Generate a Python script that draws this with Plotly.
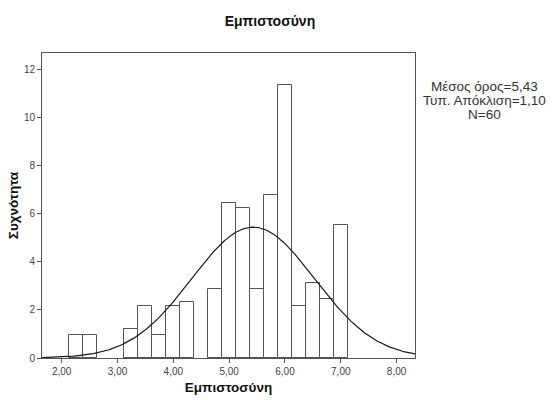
import numpy as np
import plotly.graph_objects as go

# Histogram of trust scores (bin width 0.25)
bin_centers = [2.25, 2.50, 3.25, 3.50, 3.75, 4.00, 4.25, 4.75, 5.00, 5.25,
               5.50, 5.75, 6.00, 6.25, 6.50, 6.75, 7.00]
frequencies = [0.94, 0.94, 1.22, 2.16, 0.96, 2.16, 2.31, 2.85, 6.46, 6.22,
               2.85, 6.77, 11.35, 2.16, 3.10, 2.47, 5.53]
bin_width = 0.25

# Summary statistics shown beside the chart
mean_value = 5.43
std_value = 1.10
n_value = 60

x_tick_vals = [2, 3, 4, 5, 6, 7, 8]
x_tick_text = ["2,00", "3,00", "4,00", "5,00", "6,00", "7,00", "8,00"]
y_tick_vals = [0, 2, 4, 6, 8, 10, 12]

x_range = [1.647, 8.33]
y_range = [0, 12.68]

# Normal curve scaled to the histogram counts
curve_x = np.linspace(x_range[0], x_range[1], 300)
curve_y = (n_value * bin_width / (std_value * np.sqrt(2 * np.pi))
           * np.exp(-0.5 * ((curve_x - mean_value) / std_value) ** 2))

font_family = "Liberation Sans, Arial, sans-serif"


def decimal_comma(value):
    return f"{value:.2f}".replace(".", ",")


fig = go.Figure()
fig.add_trace(go.Bar(
    x=bin_centers, y=frequencies, width=bin_width,
    marker=dict(color="white", line=dict(color="#555555", width=1)),
    hoverinfo="x+y", showlegend=False,
))
fig.add_trace(go.Scatter(
    x=curve_x, y=curve_y, mode="lines",
    line=dict(color="#1a1a1a", width=1.2),
    hoverinfo="skip", showlegend=False,
))

stats_lines = [f"Μέσος όρος={decimal_comma(mean_value)}",
               f"Τυπ. Απόκλιση={decimal_comma(std_value)}",
               f"N={n_value}"]
stats_y = [0.889, 0.843, 0.797]

fig.update_layout(
    width=552, height=400,
    margin=dict(l=42, r=137, t=53, b=42),
    paper_bgcolor="white", plot_bgcolor="white",
    font=dict(family=font_family, color="#333333", size=10),
    bargap=0,
    title=dict(text="<b>Εμπιστοσύνη</b>", x=0.489, xanchor="center",
               y=0.947, yanchor="middle",
               font=dict(size=14, color="#111111", family=font_family)),
    xaxis=dict(
        range=x_range, tickvals=x_tick_vals, ticktext=x_tick_text,
        ticks="outside", ticklen=4, tickcolor="#555555",
        showline=True, mirror=True, linecolor="#555555", linewidth=1,
        showgrid=False, zeroline=False, automargin=False,
        tickfont=dict(size=10, color="#444444"),
        title=dict(text="<b>Εμπιστοσύνη</b>", standoff=6,
                   font=dict(size=13.5, color="#111111")),
    ),
    yaxis=dict(
        range=y_range, tickvals=y_tick_vals,
        ticks="outside", ticklen=4, tickcolor="#555555",
        showline=True, mirror=True, linecolor="#555555", linewidth=1,
        showgrid=False, zeroline=False, automargin=False,
        tickfont=dict(size=10, color="#444444"),
        title=dict(text="<b>Συχνότητα</b>", standoff=2,
                   font=dict(size=13.5, color="#111111")),
    ),
    annotations=[
        dict(text=line, xref="paper", yref="paper",
             x=1.185, y=ly, xanchor="center", yanchor="middle",
             showarrow=False, align="center",
             font=dict(size=13.5, color="#333333", family=font_family))
        for line, ly in zip(stats_lines, stats_y)
    ],
)

fig.write_html("out.html")
